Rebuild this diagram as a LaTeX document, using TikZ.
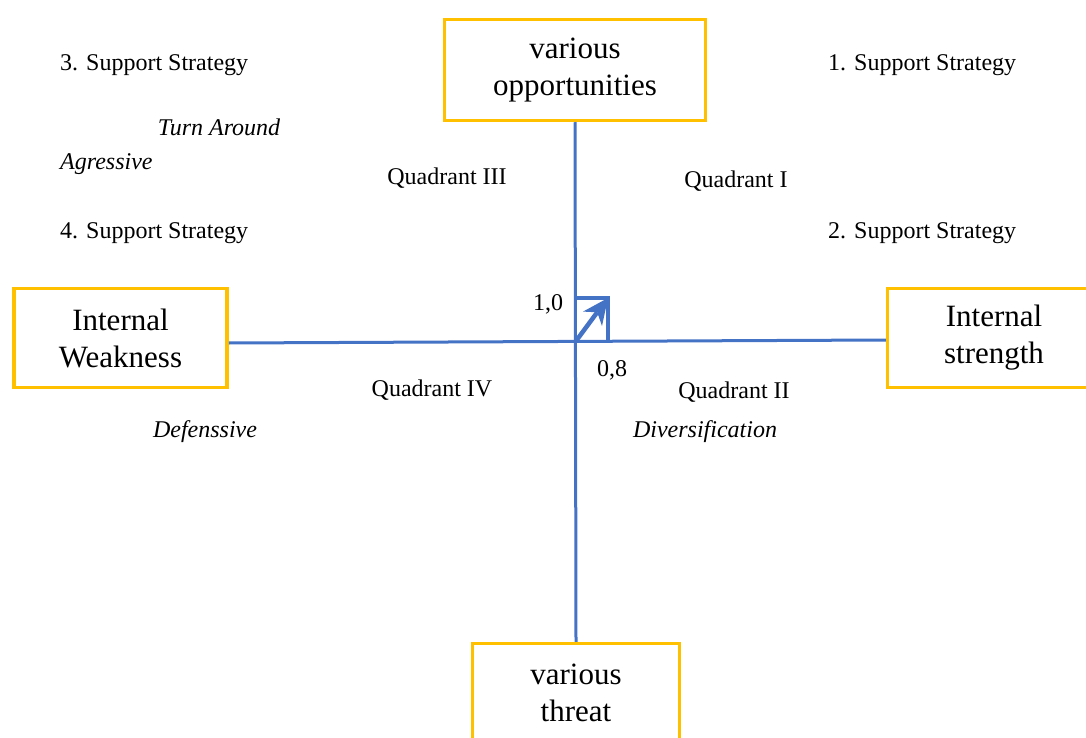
\documentclass[tikz,border=0pt]{standalone}
\usepackage{fontspec}
\setmainfont{Liberation Serif}
\usetikzlibrary{arrows.meta}
\definecolor{boxorange}{HTML}{FFC000}
\definecolor{axisblue}{HTML}{4472C4}
\begin{document}
\begin{tikzpicture}[x=1pt,y=-1pt,
  box/.style={draw=boxorange, line width=3.5pt, fill=white, align=center,
    font=\fontsize{31}{37}\selectfont, inner sep=0pt},
  lbl/.style={font=\fontsize{24}{28}\selectfont, inner sep=0pt},
  ilbl/.style={font=\fontsize{24}{28}\selectfont\itshape, inner sep=0pt},
  axis/.style={draw=axisblue, line width=3pt}]
\useasboundingbox (0,0) rectangle (1086,738);
\node[box, minimum width=261pt, minimum height=101pt] (op) at (575,70) {various\\opportunities};
\node[box, minimum width=213pt, minimum height=99pt] (lw) at (120.5,338) {Internal\\Weakness};
\node[box, minimum width=213pt, minimum height=99pt] (rs) at (994,338) {Internal\\strength};
\node[box, minimum width=207pt, minimum height=99pt] (th) at (576,693) {various\\threat};
\draw[axis] (op.south) -- (th.north);
\draw[axis] ([yshift=-5pt]lw.east) -- ([yshift=-2pt]rs.west);
\coordinate (o) at (576,341);
\coordinate (c) at (608,298);
\coordinate (ins) at (597.2,312.3);
\draw[axis, line width=4.5pt] (o |- c) -- (c) -- (c |- o);
\draw[axis, line width=4.5pt] (o) -- (ins);
\fill[axisblue] (c) -- ++(-6,28) -- ++(-4.8,-13.7) -- ++(-14.2,-0.7) -- cycle;
\node[lbl, anchor=base west] (s3) at (60,71) {3. Support Strategy};
\node[lbl, anchor=base west] (s1) at (828,71) {1. Support Strategy};
\node[ilbl, anchor=base] (ta) at (219,136) {Turn Around};
\node[ilbl, anchor=base west] (ag) at (60,170) {Agressive};
\node[lbl, anchor=base] (q3) at (447,185) {Quadrant III};
\node[lbl, anchor=base] (q1) at (736,188) {Quadrant I};
\node[lbl, anchor=base west] (s4) at (60,238) {4. Support Strategy};
\node[lbl, anchor=base west] (s2) at (828,238) {2. Support Strategy};
\node[lbl, anchor=base] (v10) at (548,310) {1,0};
\node[lbl, anchor=base] (v08) at (612,376) {0,8};
\node[lbl, anchor=base] (q4) at (432,396) {Quadrant IV};
\node[lbl, anchor=base] (q2) at (734,398) {Quadrant II};
\node[ilbl, anchor=base] (df) at (205,437) {Defenssive};
\node[ilbl, anchor=base] (dv) at (705,437) {Diversification};
\end{tikzpicture}
\end{document}
